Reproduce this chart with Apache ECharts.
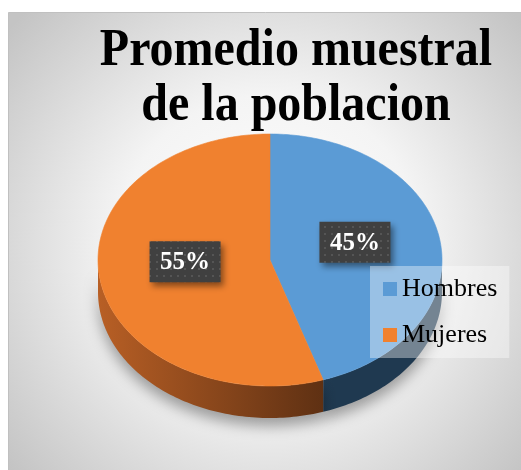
<!DOCTYPE html>
<html>
<head>
<meta charset="utf-8">
<script src="https://cdn.jsdelivr.net/npm/echarts@6/dist/echarts.min.js"></script>
<style>
  html, body { margin: 0; padding: 0; background: #ffffff; }
  #chart { width: 521px; height: 470px; }
</style>
</head>
<body>
<div id="chart"></div>
<script>
// datos
var categories = ["Hombres", "Mujeres"];
var values = [45, 55];
var topColors = ["#5B9BD5", "#F0812F"];
var sideColors = [["#2C4B69", "#1F3950"], ["#B85F25", "#5A2E12"]];

var chart = echarts.init(document.getElementById("chart"));

// geometria del pastel (elipse)
var cx = 270, cy = 260, rx = 172, ry = 126, depth = 32;
var total = values.reduce(function (a, b) { return a + b; }, 0);

function arc(a0, a1, dy) {
  var pts = [];
  var n = Math.max(2, Math.ceil((a1 - a0) / 0.02));
  for (var i = 0; i <= n; i++) {
    var a = a0 + (a1 - a0) * i / n;
    pts.push([cx + rx * Math.sin(a), cy - ry * Math.cos(a) + dy]);
  }
  return pts;
}

// patron punteado para las etiquetas
var pat = document.createElement("canvas");
pat.width = 7; pat.height = 7;
var pctx = pat.getContext("2d");
pctx.fillStyle = "#404040";
pctx.fillRect(0, 0, 7, 7);
pctx.fillStyle = "#555555";
pctx.fillRect(2, 2, 2, 2);

function renderSlice(params, api) {
  var idx = params.seriesIndex;
  var before = 0;
  for (var k = 0; k < idx; k++) before += values[k];
  var v = api.value(0);
  var a0 = before / total * Math.PI * 2;
  var a1 = (before + v) / total * Math.PI * 2;
  var children = [];

  // lado visible (mitad frontal)
  var s0 = Math.max(a0, Math.PI / 2), s1 = Math.min(a1, Math.PI * 1.5);
  if (s1 > s0) {
    var topArc = arc(s0, s1, 0);
    var botArc = arc(s0, s1, depth).reverse();
    children.push({
      type: "polygon",
      z2: 1,
      shape: { points: topArc.concat(botArc) },
      style: {
        fill: new echarts.graphic.LinearGradient(98, 0, 335, 0, [
          { offset: 0, color: sideColors[idx][0] },
          { offset: 1, color: sideColors[idx][1] }
        ], true),
        shadowBlur: 14,
        shadowOffsetY: 8,
        shadowColor: "rgba(0,0,0,0.35)"
      }
    });
  }

  // cara superior
  children.push({
    type: "polygon",
    z2: 2,
    shape: { points: [[cx, cy]].concat(arc(a0, a1, 0)) },
    style: { fill: topColors[idx], stroke: topColors[idx], lineWidth: 0.6 }
  });

  // etiqueta de porcentaje
  var mid = (a0 + a1) / 2;
  var lx = cx + 0.5 * rx * Math.sin(mid);
  var ly = cy - 0.5 * ry * Math.cos(mid) - 8;
  var bw = 71, bh = 41;
  children.push({
    type: "rect",
    z2: 10,
    shape: { x: lx - bw / 2, y: ly - bh / 2, width: bw, height: bh },
    style: {
      fill: { image: pat, repeat: "repeat" },
      shadowBlur: 6,
      shadowOffsetX: 3,
      shadowOffsetY: 4,
      shadowColor: "rgba(0,0,0,0.45)"
    }
  });
  children.push({
    type: "text",
    z2: 11,
    style: {
      text: Math.round(v / total * 100) + "%",
      x: lx,
      y: ly + 1,
      align: "center",
      verticalAlign: "middle",
      fill: "#ffffff",
      font: "bold 25px 'Liberation Serif'"
    }
  });

  return { type: "group", children: children };
}

var series = categories.map(function (name, i) {
  return {
    name: name,
    type: "custom",
    coordinateSystem: "none",
    itemStyle: { color: topColors[i] },
    renderItem: renderSlice,
    data: [[values[i]]]
  };
});

var option = {
  animation: false,
  graphic: [
    {
      type: "rect",
      z: -10,
      shape: { x: 8.5, y: 12.5, width: 520, height: 470 },
      style: {
        fill: new echarts.graphic.RadialGradient(0.5, 0.5, 0.72, [
          { offset: 0, color: "#ffffff" },
          { offset: 0.45, color: "#f4f4f4" },
          { offset: 1, color: "#c4c4c4" }
        ]),
        stroke: "#c0c0c0",
        lineWidth: 1
      }
    },
    {
      type: "text",
      z: 5,
      x: 296,
      y: 51,
      scaleY: 1.1,
      style: {
        text: "Promedio muestral",
        x: 0,
        y: 0,
        align: "center",
        verticalAlign: "middle",
        fill: "#000000",
        font: "bold 48px 'Liberation Serif'"
      }
    },
    {
      type: "text",
      z: 5,
      x: 296,
      y: 106,
      scaleY: 1.1,
      style: {
        text: "de la poblacion",
        x: 0,
        y: 0,
        align: "center",
        verticalAlign: "middle",
        fill: "#000000",
        font: "bold 48px 'Liberation Serif'"
      }
    }
  ],
  legend: {
    orient: "vertical",
    left: 370,
    top: 266,
    backgroundColor: "rgba(255,255,255,0.38)",
    padding: [10, 12, 10, 13],
    itemWidth: 14,
    itemHeight: 14,
    itemGap: 20,
    icon: "rect",
    data: categories,
    textStyle: {
      fontFamily: "Liberation Serif",
      fontSize: 26,
      color: "#000000"
    }
  },
  series: series
};

chart.setOption(option);
</script>
</body>
</html>
